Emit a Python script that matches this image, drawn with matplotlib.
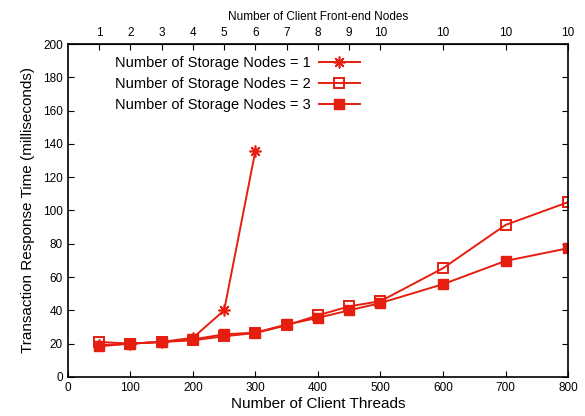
import matplotlib
matplotlib.use("Agg")
from matplotlib import pyplot as plt

threads = [50, 100, 150, 200, 250, 300, 350, 400, 450, 500, 600, 700, 800]
storage1 = [19, 20, 21, 23.5, 40, 136]
storage2 = [21, 20, 21, 22, 24.4, 26.4, 31, 37, 42.4, 45.5, 65.3, 91.3, 105]
storage3 = [18.4, 20, 21, 22.5, 25.6, 26.6, 31.5, 35.5, 40, 44.4, 55.7, 69.7, 77.3]
front_end_labels = ['1', '2', '3', '4', '5', '6', '7', '8', '9', '10', '10', '10', '10']

red = '#e51e10'
plt.rcParams['font.family'] = ['Liberation Sans', 'DejaVu Sans']

fig = plt.figure(figsize=(5.85, 4.16), dpi=100)
ax = fig.add_axes([0.116, 0.094, 0.855, 0.80])

# gnuplot style asterisk: 8-armed star
ax.plot(threads[:len(storage1)], storage1, color=red, lw=1.4, marker=(8, 2, 0),
        ms=8.5, mew=1.2, label='Number of Storage Nodes = 1')
ax.plot(threads, storage2, color=red, lw=1.4, marker='s', ms=7.5, mfc='none',
        mew=1.4, label='Number of Storage Nodes = 2')
ax.plot(threads, storage3, color=red, lw=1.4, marker='s', ms=7.5,
        label='Number of Storage Nodes = 3')

ax.set_xlim(0, 800)
ax.set_ylim(0, 200)
ax.set_xticks(range(0, 801, 100))
ax.set_yticks(range(0, 201, 20))
ax.tick_params(direction='in', labelsize=8.5, right=True, length=4, width=0.8)
ax.set_xlabel('Number of Client Threads', fontsize=11, labelpad=2)
ax.set_ylabel('Transaction Response Time (milliseconds)', fontsize=11, labelpad=6)
for s in ax.spines.values():
    s.set_linewidth(1.2)

top = ax.secondary_xaxis('top')
top.set_xticks(threads)
top.set_xticklabels(front_end_labels)
top.tick_params(direction='in', labelsize=8.5, length=4, width=0.8)
top.set_xlabel('Number of Client Front-end Nodes', fontsize=8.5, labelpad=5)

leg = ax.legend(loc='upper left', bbox_to_anchor=(0.07, 1.0), frameon=False,
                markerfirst=False, fontsize=10.5, handlelength=2.8,
                labelspacing=0.5, handletextpad=0.6, borderaxespad=0.4)

fig.savefig('out.png', dpi=100)
